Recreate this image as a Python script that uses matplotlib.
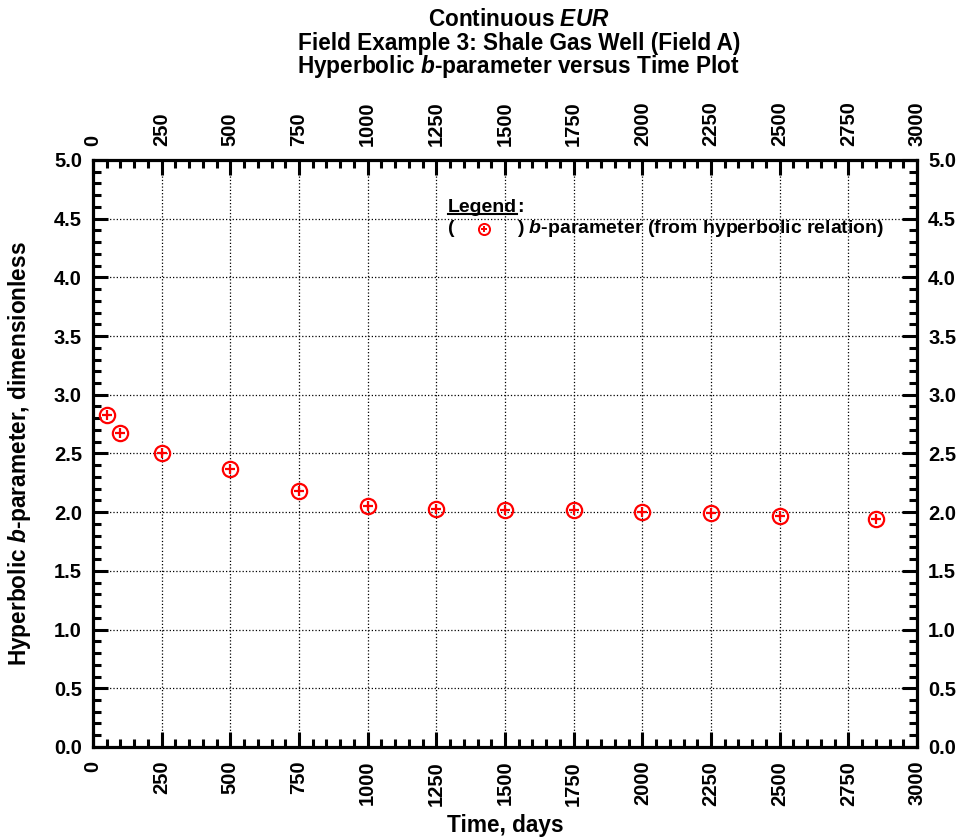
import matplotlib as mpl
import matplotlib.pyplot as plt
from matplotlib.ticker import MultipleLocator

mpl.rcParams['font.family'] = ['Liberation Sans', 'DejaVu Sans']
mpl.rcParams['font.weight'] = 'bold'
mpl.rcParams['mathtext.fontset'] = 'custom'
mpl.rcParams['mathtext.rm'] = 'Liberation Sans:bold'
mpl.rcParams['mathtext.it'] = 'Liberation Sans:italic:bold'
mpl.rcParams['mathtext.bf'] = 'Liberation Sans:bold'

# data
time_days = [50, 100, 250, 500, 750, 1000, 1250, 1500, 1750, 2000, 2250, 2500, 2850]
b_param = [2.83, 2.67, 2.50, 2.37, 2.18, 2.05, 2.03, 2.02, 2.02, 2.00, 1.99, 1.97, 1.94]

fig = plt.figure(figsize=(9.61, 8.39), dpi=100)
ax = fig.add_axes([0.0968, 0.1097, 0.8574, 0.6997])

ax.plot(time_days, b_param, 'o', ms=11, mfc='none', mec='red', mew=1.6)
ax.plot(time_days, b_param, '+', ms=7, mec='red', mew=1.6)

ax.set_xlim(0, 3000)
ax.set_ylim(0, 5)
ax.xaxis.set_major_locator(MultipleLocator(250))
ax.xaxis.set_minor_locator(MultipleLocator(50))
ax.yaxis.set_major_locator(MultipleLocator(0.5))
ax.yaxis.set_minor_locator(MultipleLocator(0.1))
ax.yaxis.set_major_formatter(mpl.ticker.FormatStrFormatter('%.1f'))
ax.grid(True, which='major', ls=':', lw=0.9, color='black')

for s in ax.spines.values():
    s.set_linewidth(2.3)
ax.tick_params(which='both', direction='in', top=True, right=True,
               labeltop=True, labelright=True, labelsize=14.5)
ax.tick_params(axis='x', which='major', pad=10, labelrotation=90)
ax.tick_params(axis='y', which='major', pad=8)
ax.tick_params(which='major', length=11, width=2.2)
ax.tick_params(which='minor', length=6, width=2.2)
for lab in ax.get_xticklabels() + ax.get_yticklabels():
    lab.set_fontweight('bold')

ax.set_xlabel('Time, days', fontsize=16.3, fontweight='bold', va='center')
ax.xaxis.set_label_coords(0.5, -0.133)
ax.set_ylabel(r'Hyperbolic $\mathit{b}$-parameter, dimensionless', fontsize=16.3,
              fontweight='bold', va='center')
ax.yaxis.set_label_coords(-0.089, 0.5)

title_x = 0.54
fig.text(title_x, 0.969, r'Continuous $\mathit{EUR}$', ha='center', va='baseline',
         fontsize=16.3, fontweight='bold')
fig.text(title_x, 0.9404, 'Field Example 3: Shale Gas Well (Field A)', ha='center',
         va='baseline', fontsize=16.3, fontweight='bold')
fig.text(title_x, 0.913, r'Hyperbolic $\mathit{b}$-parameter versus Time Plot',
         ha='center', va='baseline', fontsize=16.3, fontweight='bold')

# legend block
leg_t = ax.text(0.431, 0.919, 'Legend', transform=ax.transAxes,
                fontsize=14, fontweight='bold', va='center')
fig.canvas.draw()
bb = leg_t.get_window_extent().transformed(ax.transAxes.inverted())
ax.text(bb.x1, 0.919, ':', transform=ax.transAxes, fontsize=14,
        fontweight='bold', va='center')
ax.plot([bb.x0, bb.x1], [bb.y0 + 0.003, bb.y0 + 0.003], color='black', lw=1.5,
        transform=ax.transAxes, clip_on=False)
ax.text(0.431, 0.883, '(', transform=ax.transAxes, fontsize=14,
        fontweight='bold', va='center')
ax.plot([0.475], [0.883], 'o', ms=8, mfc='none', mec='red', mew=1.4,
        transform=ax.transAxes, clip_on=False)
ax.plot([0.475], [0.883], '+', ms=5, mec='red', mew=1.4,
        transform=ax.transAxes, clip_on=False)
ax.text(0.515, 0.883, r') $\mathit{b}$-parameter (from hyperbolic relation)',
        transform=ax.transAxes, fontsize=14, fontweight='bold', va='center')

fig.savefig('out.png', dpi=100)
